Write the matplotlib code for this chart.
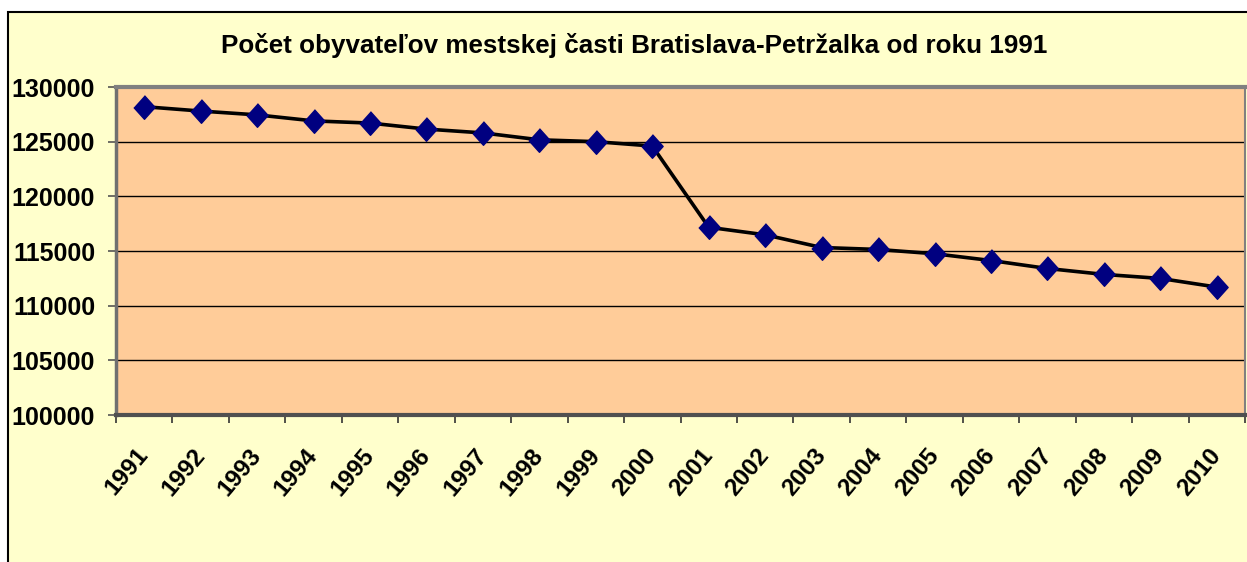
import matplotlib
matplotlib.use("Agg")
import matplotlib.pyplot as plt
from matplotlib.patches import Rectangle
from matplotlib.ticker import FixedLocator

years = ["1991", "1992", "1993", "1994", "1995", "1996", "1997", "1998", "1999", "2000",
         "2001", "2002", "2003", "2004", "2005", "2006", "2007", "2008", "2009", "2010"]
population = [128200, 127800, 127450, 126900, 126700, 126150, 125800, 125170, 125000, 124600,
              117170, 116480, 115320, 115140, 114750, 114130, 113400, 112860, 112490, 111700]
y_ticks = [100000, 105000, 110000, 115000, 120000, 125000, 130000]
title = "Počet obyvateľov mestskej časti Bratislava-Petržalka od roku 1991"

plt.rcParams['font.family'] = ['Liberation Sans', 'DejaVu Sans']

W, H = 1247, 562
fig = plt.figure(figsize=(W / 100, H / 100), dpi=100)
fig.patch.set_facecolor("white")

# chart area background with border
bg = Rectangle((8 / W, -0.1), 1.2, 1.1 - 12 / H, transform=fig.transFigure,
               facecolor="#FFFFCC", edgecolor="black", linewidth=1.5, zorder=-10)
fig.patches.append(bg)

ax = fig.add_axes([116 / W, (H - 415) / H, (1245 - 116) / W, (415 - 87) / H])
ax.set_zorder(1)
ax.set_facecolor("#FFCC99")

x = list(range(len(years)))
diamond = [(0, 1), (0.9, 0), (0, -1), (-0.9, 0)]
ax.plot(x, population, color="black", linewidth=2.6, zorder=3,
        marker=diamond, markersize=17, markerfacecolor="#000080", markeredgecolor="#000080")

ax.set_xlim(-0.5, len(years) - 0.5)
ax.set_ylim(y_ticks[0], y_ticks[-1])
ax.set_yticks(y_ticks)
ax.set_yticklabels([str(v) for v in y_ticks], fontsize=18, fontweight="bold")
ax.yaxis.grid(True, color="black", linewidth=1.0)
ax.set_axisbelow(True)

ax.xaxis.set_major_locator(FixedLocator([i - 0.5 for i in range(len(years) + 1)]))
ax.xaxis.set_minor_locator(FixedLocator(x))
ax.set_xticklabels([], minor=False)
ax.set_xticklabels(years, minor=True, fontsize=17.5, fontweight="bold",
                   rotation=50, ha="right", va="center", rotation_mode="anchor")
ax.tick_params(axis="x", which="minor", length=0, pad=26)
ax.tick_params(axis="x", which="major", length=6, width=1.2, color="#333333", direction="out")
ax.tick_params(axis="y", which="major", length=6, width=1.2, color="#555555", direction="out", pad=9)

for side in ["top", "right"]:
    ax.spines[side].set_color("#808080")
ax.spines["top"].set_linewidth(3)
ax.spines["right"].set_linewidth(1.5)
ax.spines["left"].set_color("#707070")
ax.spines["left"].set_linewidth(2.5)
ax.spines["bottom"].set_color("#505050")
ax.spines["bottom"].set_linewidth(3)

fig.text(634 / W, 1 - 45 / H, title, ha="center", va="center", fontsize=18.7, fontweight="bold")

fig.savefig("out.png", dpi=100, facecolor=fig.get_facecolor())
